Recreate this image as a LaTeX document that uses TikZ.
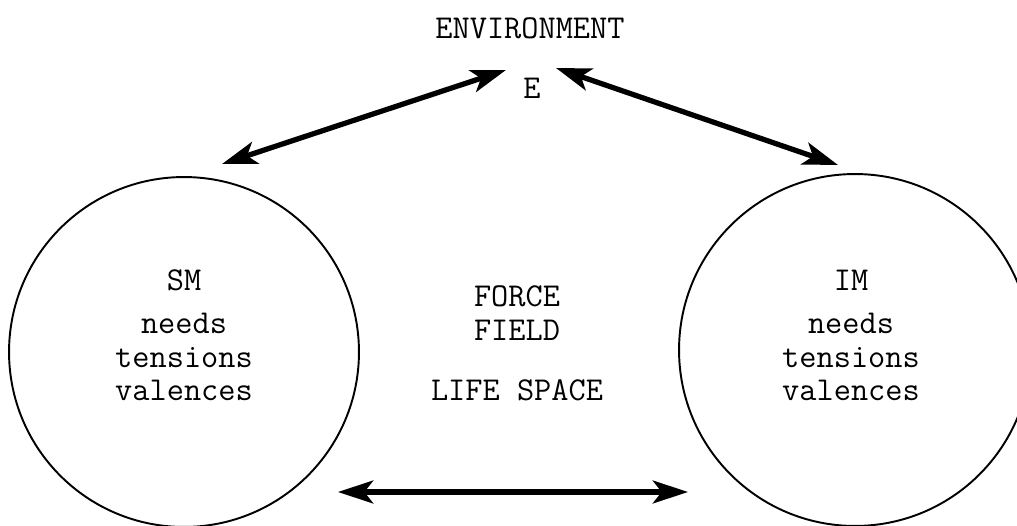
\documentclass[tikz,border=0pt]{standalone}
\usepackage{fontspec}
\usetikzlibrary{arrows.meta, positioning}

\begin{document}
\begin{tikzpicture}[x=0.02cm, y=-0.02cm, >={Stealth[length=20pt, width=13pt, inset=5pt]},
  font=\ttfamily\fontsize{19}{19}\selectfont,
  motive/.style={draw, circle, line width=1.1pt, minimum size=7cm, inner sep=0pt},
  link/.style={<->, line width=3pt}]
  \useasboundingbox (0,0) rectangle (1017,526);
  % the two motive systems
  \node[motive] (sm) at (184,352) {};
  \node[motive, minimum size=7.04cm] (im) at (855,350) {};
  \node (smlab) at (184,280) {SM};
  \node[align=center] (smtxt) at (184,357) {needs\\tensions\\valences};
  \node (imlab) at (851,280) {IM};
  \node[align=center] (imtxt) at (851,357) {needs\\tensions\\valences};
  % environment and field
  \node (env) at (530,28) {ENVIRONMENT};
  \node (e) at (532,88) {E};
  \node[align=center] (field) at (517,313) {FORCE\\FIELD};
  \node (life) at (517,390) {LIFE SPACE};
  % arrow ends
  \coordinate (smtop) at (222,164);
  \coordinate (eleft) at (506,70);
  \coordinate (eright) at (556,68);
  \coordinate (imtop) at (838,165);
  \coordinate (fleft) at (338,492);
  \coordinate (fright) at (688,492);
  \draw[link] (smtop) -- (eleft);
  \draw[link] (eright) -- (imtop);
  \draw[link] (fleft) -- (fright);
\end{tikzpicture}
\end{document}
